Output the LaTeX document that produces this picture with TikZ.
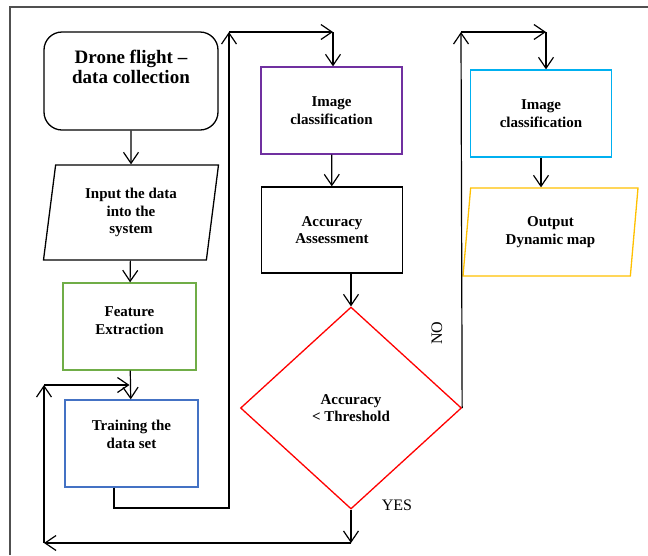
\documentclass[tikz,border=0pt]{standalone}
\usepackage{fontspec}
\setmainfont{Liberation Serif}
\usetikzlibrary{arrows.meta,shapes.geometric}
\definecolor{flowpurple}{RGB}{112,48,160}
\definecolor{flowgreen}{RGB}{112,173,71}
\definecolor{flowblue}{RGB}{68,114,196}
\definecolor{flowcyan}{RGB}{0,176,240}
\definecolor{flowyellow}{RGB}{255,192,0}
\definecolor{flowred}{RGB}{255,0,0}
\definecolor{framegray}{RGB}{80,80,80}

\begin{document}
\begin{tikzpicture}[x=1pt, y=-1pt,
    txt/.style={align=center, font=\fontsize{15}{17.5}\selectfont\bfseries},
    box/.style={txt, draw, line width=1.3pt, inner sep=0pt, minimum width=141pt, minimum height=87pt},
    slant/.style={box, trapezium, trapezium left angle=76, trapezium right angle=104,
      trapezium stretches body, minimum width=175pt},
    flow/.style={-{Straight Barb[length=11pt,width=15pt]}, line width=1.2pt}]
  \useasboundingbox (0,0) rectangle (648,555);
  % Page frame
  \draw[framegray, line width=1.5pt] (10,555) -- (10,7) -- (648,7);

  % Left column
  \node[box, rounded corners=18pt, minimum width=174pt, minimum height=98pt,
    label={[txt, font=\fontsize{19}{20}\selectfont\bfseries, yshift=14pt]center:Drone flight --\\data collection}]
    (drone) at (131,81) {};
  \node[slant, minimum height=95pt] (inputdata) at (131,212.5) {Input the data\\into the\\system};
  \node[box, draw=flowgreen, minimum width=133pt, label={[txt, yshift=6pt]center:Feature\\Extraction}]
    (feature) at (129.5,326.5) {};
  \node[box, draw=flowblue, minimum width=133pt, label={[txt, yshift=9pt]center:Training the\\data set}]
    (training) at (131.5,443.5) {};

  % Middle column
  \node[box, draw=flowpurple] (classify) at (331.5,110.5) {Image\\classification};
  \node[box, minimum height=86pt] (assess) at (332,230) {Accuracy\\Assessment};
  \node[txt, diamond, draw=flowred, line width=1.3pt, inner sep=0pt,
    minimum width=221pt, minimum height=202pt] (decide) at (351,408) {Accuracy\\< Threshold};

  % Right column
  \node[box, draw=flowcyan] (classifyout) at (541,113.5) {Image\\classification};
  \node[slant, draw=flowyellow, minimum height=88pt] (output) at (550.5,232) {Output\\Dynamic map};

  % Bend points
  \coordinate (tbend) at (229,508);
  \coordinate (ttop) at (229,32);
  \coordinate (ptop) at (333,32);
  \coordinate (ybot) at (351,543);
  \coordinate (lbot) at (44,543);
  \coordinate (lup) at (44,385);
  \coordinate (ntop) at (461,32);
  \coordinate (ctop) at (546,32);

  % Straight arrows
  \draw[flow] (drone) -- (inputdata);
  \draw[flow] (inputdata) -- (feature);
  \draw[flow] (feature) -- (training);
  \draw[flow] (classify) -- (assess);
  \draw[flow] (assess.south -| decide.north) -- (decide.north);
  \draw[flow] (classifyout.south) -- (classifyout.south |- output.north);

  % Training to classification
  \draw[flow] ([xshift=-17.5pt]training.south) |- (tbend) -- (ttop);
  \draw[flow] (ttop) -- (ptop);
  \draw[flow] (ptop) -- (ptop |- classify.north);

  % YES: back to training
  \draw[flow] (decide.south) -- (ybot);
  \draw[flow] (ybot) -- (lbot);
  \draw[flow] (lbot) -- (lup);
  \draw[flow] (lup) -- (lup -| feature.south);
  \node[font=\fontsize{16}{16}\selectfont] (yes) at (397,505) {YES};

  % NO: to final classification
  \draw[flow] (decide.east) -- (ntop);
  \draw[flow] (ntop) -- (ctop);
  \draw[flow] (ctop) -- (ctop |- classifyout.north);
  \node[rotate=90, font=\fontsize{16}{16}\selectfont] (no) at (437,333) {NO};
\end{tikzpicture}
\end{document}
